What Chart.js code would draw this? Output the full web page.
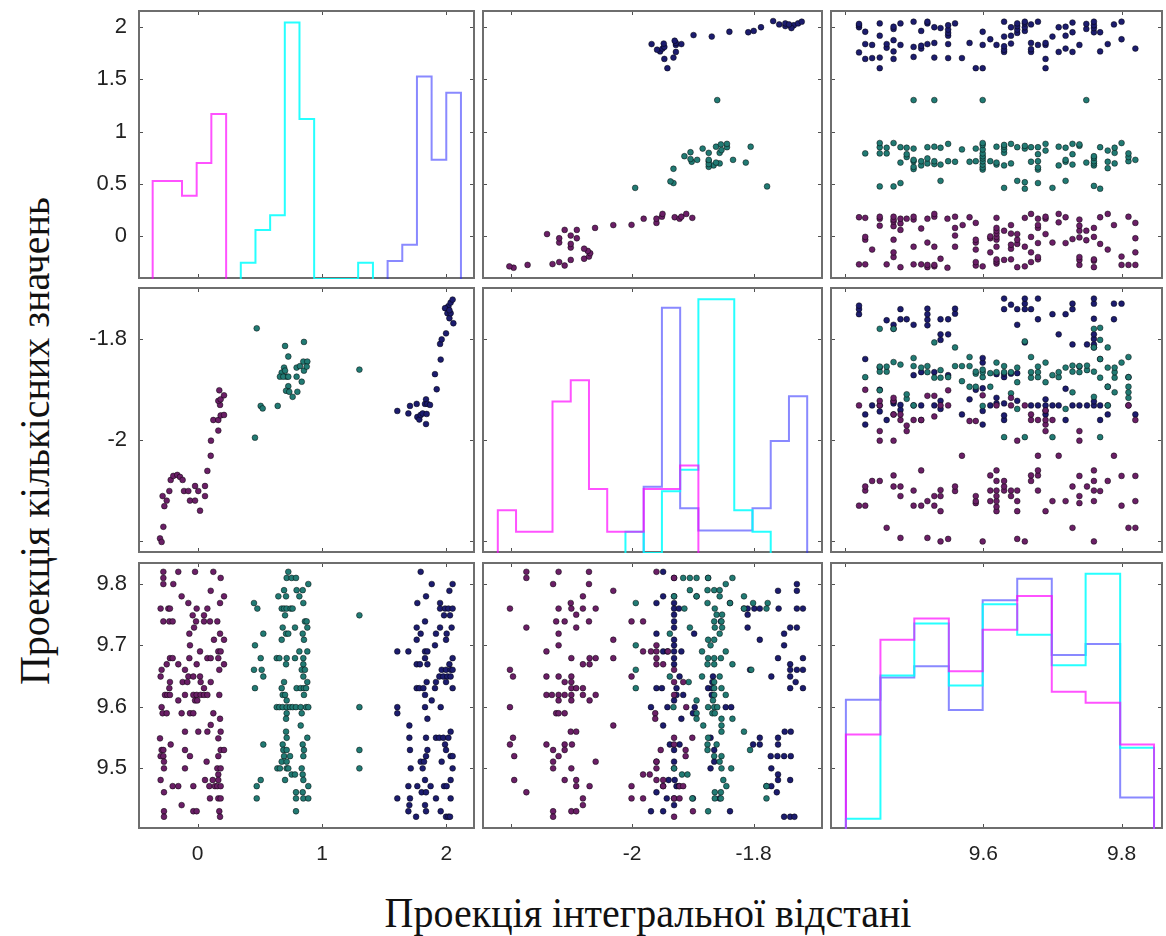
<!DOCTYPE html>
<html><head><meta charset="utf-8">
<script src="https://cdn.jsdelivr.net/npm/chart.js@4.4.1/dist/chart.umd.min.js"></script>
<style>
html,body{margin:0;padding:0;background:#fff;}
body{width:1166px;height:936px;position:relative;overflow:hidden;}
canvas{position:absolute;}
.title{position:absolute;font-family:"Liberation Serif","Times New Roman",serif;font-size:40px;color:#111;white-space:nowrap;line-height:1;}
#xt{left:648px;top:893px;transform:translateX(-50%) scaleY(1.08);}
#yt{left:35px;top:441px;transform:translate(-50%,-50%) rotate(-90deg) scaleY(1.08);}
</style></head>
<body>
<div class="title" id="xt">Проекція інтегральної відстані</div>
<div class="title" id="yt">Проекція кількісних значень</div>
<script>
// ---------------- DATA ----------------
// axis ticks
const xTickVals = [[0,1,2],[-2.2,-2,-1.8],[9.4,9.6,9.8]];
const xTickLabels = [['0','1','2'],['','-2','-1.8'],['','9.6','9.8']];
const yTickVals = [[0,0.5,1,1.5,2],[-2.2,-2,-1.8],[9.5,9.6,9.7,9.8]];
const yTickLabels = [['0','0.5','1','1.5','2'],['','-2','-1.8'],['9.5','9.6','9.7','9.8']];
const varRangeX = [[-0.480,2.231],[-2.247,-1.686],[9.378,9.860]];
const varRangeY = [[-0.411,2.163],[-2.224,-1.696],[9.400,9.836]];

// histogram bin edges per variable
const v1Edges = [-0.362,-0.244,-0.126,-0.008,0.110,0.229,0.347,0.465,0.583,0.701,0.819,0.937,1.055,1.173,1.291,1.410,1.528,1.646,1.764,1.882,2.000,2.118];
const v2Edges = [-2.221,-2.191,-2.161,-2.131,-2.101,-2.071,-2.041,-2.011,-1.981,-1.951,-1.921,-1.891,-1.862,-1.832,-1.802,-1.772,-1.742,-1.712];
const v3Edges = [9.401,9.451,9.500,9.550,9.599,9.649,9.699,9.748,9.798,9.847];
// [first bin index, counts]  order: magenta, cyan, blue
const v1Hist = [[0,[6.0,6.0,5.1,7.1,10.1]],[6,[1.0,3.0,3.9,15.7,9.8,0,0,0,1.0]],[16,[1.1,2.1,12.4,7.3,11.4]]];
const v2Hist = [[0,[2.0,1.0,1.0,7.1,8.1,3.0,1.0,1.0,3.0,3.0,4.1]],[7,[1.0,0,2.9,3.9,11.9,11.9,2.0,1.0]],[8,[3.1,11.5,2.1,1.05,1.05,1.05,2.1,5.25,7.35]]];
const v3Hist = [[0,[9.3,18.6,20.7,15.5,19.6,22.9,13.5,12.4,8.3]],[0,[1.0,15.1,20.2,14.1,22.1,19.1,16.1,25.1,8.0]],[0,[12.7,14.9,16.0,11.7,22.5,24.6,17.1,18.2,3.1]]];
const histMax = [16.47,12.47,26.25];

// variable 1 vs variable 2 : [v1, v2]
const purpleV1V2 = [[-0.303,-2.195],[-0.290,-2.202],[-0.276,-2.172],[-0.268,-2.131],[-0.249,-2.120],[-0.282,-2.111],[-0.228,-2.101],[-0.217,-2.079],[-0.196,-2.071],[-0.164,-2.069],[-0.142,-2.073],[-0.121,-2.079],[-0.110,-2.101],[-0.075,-2.101],[-0.062,-2.120],[-0.021,-2.120],[-0.021,-2.091],[0.005,-2.101],[0.019,-2.140],[0.059,-2.091],[0.059,-2.111],[0.078,-2.061],[0.105,-2.031],[0.107,-2.001],[0.126,-1.960],[0.166,-1.981],[0.166,-1.960],[0.185,-1.951],[0.212,-1.950],[0.180,-1.930],[0.166,-1.922],[0.185,-1.919],[0.212,-1.911],[0.174,-1.901]];
const tealV1V2 = [[0.475,-1.778],[0.461,-1.995],[0.507,-1.932],[0.523,-1.937],[0.644,-1.932],[0.703,-1.813],[0.855,-1.805],[0.729,-1.834],[0.695,-1.856],[0.676,-1.866],[0.703,-1.862],[0.716,-1.874],[0.662,-1.874],[0.689,-1.874],[0.729,-1.874],[0.796,-1.856],[0.823,-1.853],[0.850,-1.844],[0.882,-1.844],[0.855,-1.862],[0.877,-1.854],[0.796,-1.874],[0.837,-1.884],[0.729,-1.893],[0.711,-1.902],[0.737,-1.904],[0.802,-1.904],[0.764,-1.914],[1.301,-1.860]];
const navyV1V2 = [[1.606,-1.942],[1.695,-1.947],[1.708,-1.932],[1.762,-1.928],[1.767,-1.954],[1.783,-1.959],[1.794,-1.950],[1.810,-1.947],[1.829,-1.928],[1.837,-1.919],[1.848,-1.928],[1.869,-1.930],[1.837,-1.968],[1.842,-1.948],[1.923,-1.899],[1.909,-1.869],[1.955,-1.840],[1.950,-1.809],[1.963,-1.800],[1.998,-1.788],[2.003,-1.738],[2.017,-1.734],[2.035,-1.727],[2.051,-1.721],[1.990,-1.738],[2.009,-1.748],[2.025,-1.758],[2.035,-1.748],[2.025,-1.742],[2.057,-1.768]];

// variable 1 vs variable 3, grouped by v3: [v3, [v1 ...]]
const purpleV3V1 = [[9.820,[-0.276,-0.156,-0.021,0.126]],[9.810,[-0.276,0.185]],[9.800,[-0.276,-0.196]],[9.789,[0.105]],[9.780,[-0.129,0.212]],[9.769,[0.180,-0.075]],[9.760,[-0.298,-0.236,-0.223,-0.008,0.078]],[9.749,[-0.040,0.051]],[9.739,[-0.276,-0.228,-0.201,-0.013,0.051,0.099,0.158]],[9.729,[-0.029]],[9.719,[-0.067,0.180]],[9.709,[0.131,0.212]],[9.700,[-0.062]],[9.690,[0.019,0.166,0.185]],[9.679,[-0.223,-0.201,-0.067,0.078,0.105,0.166]],[9.669,[-0.249,-0.156,-0.008,0.212]],[9.660,[-0.290,-0.102,0.174]],[9.649,[-0.298,-0.075,-0.035,0.019]],[9.640,[-0.223,-0.121,-0.083,0.024,0.105]],[9.630,[-0.228,0.051]],[9.619,[-0.263,-0.244,-0.223,-0.102,-0.035,-0.008,0.024,0.051,0.078,0.174]],[9.610,[-0.156,-0.021,-0.003]],[9.599,[-0.290]],[9.589,[-0.282,-0.249,-0.129,-0.062,-0.035,0.126]],[9.580,[0.180]],[9.570,[0.105]],[9.559,[-0.102,0.005,0.078,0.185]],[9.548,[-0.303,0.166]],[9.538,[-0.217]],[9.529,[-0.290,-0.276,-0.102,0.185,0.212]],[9.519,[-0.298,-0.276,-0.062,0.166]],[9.510,[-0.271,0.072]],[9.499,[-0.271,-0.102,0.158,0.185]],[9.489,[0.166]],[9.480,[-0.298,0.059,0.121,0.166]],[9.470,[-0.201,-0.156,-0.035,0.094,0.139,0.158,0.185]],[9.460,[-0.271]],[9.450,[0.099,0.166,0.185]],[9.439,[-0.129]],[9.429,[-0.271,-0.035,-0.008,0.174]],[9.420,[-0.271,0.180]]];
const tealV3V1 = [[9.820,[0.729]],[9.810,[0.716,0.756,0.791]],[9.800,[0.890]],[9.790,[0.695,0.796,0.845]],[9.780,[0.649,0.711,0.818]],[9.769,[0.453,0.850]],[9.760,[0.480,0.676,0.695,0.716,0.748,0.764]],[9.749,[0.703,1.301]],[9.739,[0.863,0.877]],[9.729,[0.684,0.783,0.882]],[9.719,[0.528,0.711,0.729,0.845]],[9.709,[0.676,0.855]],[9.700,[0.461]],[9.690,[0.818,0.882]],[9.679,[0.507,0.636,0.657,0.716,0.783,0.850]],[9.669,[0.711,0.850]],[9.660,[0.453,0.515,0.837,0.863]],[9.649,[0.528,0.850]],[9.640,[0.695,0.882]],[9.630,[0.461,0.676,0.796,0.829,0.855,0.872]],[9.619,[0.684,0.703,0.855]],[9.610,[0.716]],[9.599,[0.636,0.657,0.684,0.716,0.743,0.764,0.791,0.829,0.872,0.890,1.301]],[9.589,[0.716,0.837]],[9.580,[0.711]],[9.569,[0.829]],[9.559,[0.711]],[9.549,[0.716,0.882]],[9.538,[0.528,0.684,0.845]],[9.529,[0.689,0.716,0.855,1.301]],[9.519,[0.695,0.743,0.850]],[9.510,[0.676,0.716]],[9.499,[0.641,0.662,0.716,0.729,0.837,1.301]],[9.489,[0.756,0.783,0.845]],[9.480,[0.507,0.703,0.850]],[9.470,[0.475,0.890]],[9.460,[0.791,0.845]],[9.450,[0.475,0.791,0.850,0.890]],[9.429,[0.791]]];
const navyV3V1 = [[9.820,[1.794]],[9.800,[1.883,2.051]],[9.789,[2.025]],[9.780,[1.837]],[9.769,[1.767,1.950]],[9.760,[1.950,1.990,2.017,2.051]],[9.749,[1.982,2.030]],[9.739,[1.829]],[9.729,[1.762,1.950,2.043]],[9.719,[1.794,1.917,2.003]],[9.709,[1.762,1.998]],[9.700,[1.909]],[9.690,[1.606,1.695,1.829,1.848]],[9.679,[1.829,2.051]],[9.669,[1.762,1.788,1.848,2.025]],[9.660,[1.963,1.998,2.035,2.051]],[9.649,[1.944,1.976,2.009,2.035]],[9.640,[1.842,1.917,1.998]],[9.630,[1.762,1.783,1.816,1.909,2.051]],[9.619,[1.829]],[9.610,[1.883]],[9.599,[1.606,1.829,1.955]],[9.589,[1.606]],[9.580,[1.848]],[9.569,[1.703]],[9.559,[2.035]],[9.549,[1.703,1.837,1.917,1.944,1.976,2.017]],[9.538,[1.990]],[9.529,[1.708,1.848,1.998]],[9.519,[1.837,2.035,2.051]],[9.510,[1.794,1.821,1.963]],[9.499,[1.714,1.810,2.051]],[9.480,[1.829,2.035]],[9.470,[1.695,1.767,1.874,1.982,2.003]],[9.460,[1.802,1.837]],[9.450,[1.606,1.708,1.917,2.035]],[9.439,[1.703,1.829]],[9.429,[1.695,1.837,1.955]],[9.420,[1.757,1.998,2.017,2.030]]];

// variable 2 vs variable 3, grouped by v3: [v3, [v2 ...]]
const purpleV3V2 = [[9.820,[-2.174,-2.121,-2.071,-1.960]],[9.810,[-2.174,-1.931]],[9.800,[-2.130,-2.071]],[9.789,[-2.031]],[9.780,[-2.081]],[9.769,[-2.101]],[9.760,[-2.201,-2.121,-2.100,-2.081,-2.060]],[9.750,[-2.092]],[9.739,[-2.125,-2.111,-2.071,-2.001,-1.982]],[9.729,[-2.174,-2.092]],[9.719,[-2.121]],[9.709,[-2.031]],[9.700,[-2.121,-1.960]],[9.690,[-2.141,-1.982,-1.969,-1.960,-1.941]],[9.679,[-2.100,-2.070,-2.060,-2.031,-1.960]],[9.669,[-2.081,-2.070,-1.960,-1.949]],[9.660,[-2.201,-1.931]],[9.649,[-2.196,-2.141,-2.121,-2.100,-2.001]],[9.640,[-2.111,-2.100,-1.931,-1.916]],[9.630,[-2.100,-2.092,-2.081]],[9.619,[-2.141,-2.132,-2.121,-2.111,-2.100,-2.081,-2.060,-1.931]],[9.610,[-2.121,-2.100,-2.070]],[9.599,[-2.201,-1.911]],[9.589,[-2.125,-2.121,-2.111,-1.962]],[9.580,[-1.962]],[9.569,[-2.031]],[9.559,[-2.101,-2.092]],[9.549,[-2.196,-1.931,-1.901]],[9.538,[-2.201,-2.141,-2.111,-2.099,-1.931]],[9.529,[-2.130,-2.111,-1.953,-1.912]],[9.519,[-2.194,-2.121,-1.912]],[9.510,[-2.130,-2.060,-1.960]],[9.499,[-2.130,-2.100,-1.960]],[9.489,[-1.982,-1.971]],[9.480,[-2.194,-2.111,-2.092,-1.960,-1.949]],[9.470,[-2.092,-2.070,-2.001,-1.949,-1.922,-1.916]],[9.460,[-2.174]],[9.450,[-2.081,-2.001,-1.982,-1.931,-1.922]],[9.439,[-2.081]],[9.429,[-2.130,-2.100,-2.092,-1.900]],[9.420,[-2.130,-1.931]]];
const tealV3V2 = [[9.810,[-1.916,-1.905,-1.894,-1.875,-1.835]],[9.800,[-1.846]],[9.790,[-1.905,-1.876,-1.865,-1.856]],[9.780,[-1.931,-1.894,-1.856,-1.816]],[9.769,[-1.994,-1.876,-1.777,-1.801,-1.839]],[9.760,[-1.914,-1.864,-1.816,-1.779]],[9.750,[-1.861,-1.852]],[9.739,[-1.865,-1.853]],[9.729,[-1.905,-1.864,-1.852]],[9.719,[-1.938,-1.856]],[9.709,[-1.875,-1.865]],[9.700,[-1.994,-1.871]],[9.690,[-1.885,-1.846]],[9.679,[-1.875,-1.865,-1.854]],[9.669,[-1.876,-1.865,-1.835]],[9.660,[-1.994,-1.804]],[9.649,[-1.938,-1.885,-1.856]],[9.640,[-1.907,-1.865]],[9.630,[-1.994,-1.865,-1.853]],[9.619,[-1.865,-1.846]],[9.610,[-1.894,-1.867]],[9.599,[-1.932,-1.875,-1.865,-1.860]],[9.589,[-1.894,-1.868,-1.864]],[9.580,[-1.894,-1.853,-1.835]],[9.569,[-1.883,-1.853]],[9.559,[-1.853,-1.816]],[9.549,[-1.875]],[9.538,[-1.876,-1.861]],[9.529,[-1.876,-1.806]],[9.519,[-1.865,-1.853]],[9.510,[-1.856]],[9.499,[-1.931,-1.853,-1.837]],[9.489,[-1.918,-1.909]],[9.480,[-1.850]],[9.470,[-1.845,-1.779]],[9.460,[-1.864,-1.854]],[9.450,[-1.901,-1.864,-1.854,-1.779]],[9.429,[-1.875]]];
const navyV3V2 = [[9.820,[-1.949]],[9.810,[-1.931,-1.875]],[9.800,[-1.729]],[9.789,[-1.760,-1.729]],[9.780,[-1.949,-1.931,-1.894]],[9.769,[-1.960,-1.931,-1.839]],[9.760,[-1.931,-1.923,-1.816,-1.810,-1.799,-1.790,-1.759,-1.729,-1.719]],[9.750,[-1.931,-1.810]],[9.739,[-1.931,-1.854]],[9.729,[-1.931,-1.810,-1.740,-1.729]],[9.719,[-1.960,-1.898,-1.750]],[9.709,[-1.931,-1.790]],[9.700,[-1.931,-1.750]],[9.690,[-1.949,-1.942,-1.931,-1.919]],[9.679,[-1.931,-1.760,-1.719]],[9.669,[-1.931,-1.740]],[9.660,[-1.806,-1.740,-1.729,-1.719]],[9.649,[-1.922,-1.867,-1.771,-1.740]],[9.640,[-1.868,-1.731]],[9.630,[-1.960,-1.951,-1.927,-1.875,-1.868,-1.740,-1.719]],[9.619,[-1.927,-1.916,-1.869]],[9.610,[-1.931]],[9.599,[-1.969,-1.942,-1.897,-1.846,-1.837]],[9.589,[-1.900]],[9.580,[-1.919]],[9.569,[-1.949]],[9.559,[-1.749,-1.739]],[9.549,[-1.871,-1.790,-1.760]],[9.538,[-1.938,-1.922,-1.801,-1.790,-1.760]],[9.529,[-1.931,-1.865]],[9.519,[-1.772,-1.761,-1.750,-1.739]],[9.510,[-1.960,-1.931,-1.865]],[9.499,[-1.931,-1.871,-1.771]],[9.489,[-1.760]],[9.480,[-1.940,-1.930,-1.760,-1.740]],[9.470,[-1.949,-1.927,-1.923,-1.779,-1.771]],[9.460,[-1.960,-1.762]],[9.450,[-1.943,-1.931,-1.900,-1.856]],[9.439,[-1.931]],[9.429,[-1.969,-1.949,-1.839]],[9.420,[-1.750,-1.740,-1.733]]];

// ---------------- STYLE / LAYOUT ----------------
const classColors = ['#6a1f66','#217a73','#1c1c6e'];
const histColors = ['rgba(255,0,255,0.68)','rgba(0,255,255,0.85)','rgba(40,40,255,0.55)'];
const cols = [{l:138,r:475},{l:482,r:823},{l:830,r:1163}];
const rows = [{t:10,b:279},{t:287,b:553},{t:562,b:829}];
const LEFT_AXIS_W = 78, BOTTOM_AXIS_H = 55;
const Y_TICK_FONT = {family:'Liberation Sans, Arial, sans-serif', size:22};
const X_TICK_FONT = {family:'Liberation Sans, Arial, sans-serif', size:21};

function expand(groups){ const out=[]; for(const [yv,xs] of groups) for(const xv of xs) out.push([xv,yv]); return out; }
const pairs = {
  '01':[purpleV1V2,tealV1V2,navyV1V2],
  '02':[expand(purpleV3V1),expand(tealV3V1),expand(navyV3V1)],
  '12':[expand(purpleV3V2),expand(tealV3V2),expand(navyV3V2)]
};
function pts(cls,xv,yv){
  if(xv<yv) return pairs[''+xv+yv][cls].map(p=>({x:p[0],y:p[1]}));
  return pairs[''+yv+xv][cls].map(p=>({x:p[1],y:p[0]}));
}
function histPts(edges,start,counts){
  const out=[{x:edges[start],y:0}];
  counts.forEach((c,i)=>{ out.push({x:edges[start+i],y:c}); out.push({x:edges[start+i+1],y:c}); });
  out.push({x:edges[start+counts.length],y:0});
  return out;
}
function labelFor(vals,labels,v){ for(let i=0;i<vals.length;i++) if(Math.abs(vals[i]-v)<1e-9) return labels[i]; return ''; }

const framePlugin = {
  id:'frame',
  beforeDatasetsDraw(chart,args,o){
    const ctx=chart.ctx, a=chart.chartArea, xs=chart.scales[o.xId], ys=chart.scales[o.yId];
    ctx.save();
    ctx.strokeStyle='#505050'; ctx.lineWidth=1;
    ctx.beginPath();
    for(const v of o.xt){ const p=Math.round(xs.getPixelForValue(v))+0.5; ctx.moveTo(p,a.top); ctx.lineTo(p,a.top+5); ctx.moveTo(p,a.bottom); ctx.lineTo(p,a.bottom-5); }
    for(const v of o.yt){ const p=Math.round(ys.getPixelForValue(v))+0.5; ctx.moveTo(a.left,p); ctx.lineTo(a.left+5,p); ctx.moveTo(a.right,p); ctx.lineTo(a.right-5,p); }
    ctx.stroke();
    ctx.strokeStyle='#6e6e6e'; ctx.lineWidth=2;
    ctx.strokeRect(a.left+1,a.top+1,a.right-a.left-2,a.bottom-a.top-2);
    ctx.restore();
  }
};

function noPad(sc){ sc.paddingTop=0; sc.paddingBottom=0; sc.paddingLeft=0; sc.paddingRight=0; }
function xScale(c,show){
  const s={type:'linear',min:varRangeX[c][0],max:varRangeX[c][1],display:show,position:'bottom',
    grid:{display:false,drawTicks:false},border:{display:false},
    ticks:{autoSkip:false,maxRotation:0,minRotation:0,padding:13,font:X_TICK_FONT,color:'#222',
      callback:(v)=>labelFor(xTickVals[c],xTickLabels[c],v)},
    afterBuildTicks:(sc)=>{sc.ticks=xTickVals[c].map(v=>({value:v}));}};
  if(show) s.afterFit=(sc)=>{sc.height=BOTTOM_AXIS_H; noPad(sc);};
  return s;
}
function yScale(r,show){
  const s={type:'linear',min:varRangeY[r][0],max:varRangeY[r][1],display:show,position:'left',
    grid:{display:false,drawTicks:false},border:{display:false},
    ticks:{autoSkip:false,padding:11,font:Y_TICK_FONT,color:'#222',
      callback:(v)=>labelFor(yTickVals[r],yTickLabels[r],v)},
    afterBuildTicks:(sc)=>{sc.ticks=yTickVals[r].map(v=>({value:v}));}};
  if(show) s.afterFit=(sc)=>{sc.width=LEFT_AXIS_W; noPad(sc);};
  return s;
}

const hists=[v1Hist,v2Hist,v3Hist], edgesAll=[v1Edges,v2Edges,v3Edges];

for(let r=0;r<3;r++){
  for(let c=0;c<3;c++){
    const showY=(c===0), showX=(r===2);
    const cv=document.createElement('canvas');
    const left=cols[c].l-(showY?LEFT_AXIS_W:0), top=rows[r].t;
    const w=(cols[c].r-cols[c].l)+(showY?LEFT_AXIS_W:0);
    const h=(rows[r].b-rows[r].t)+(showX?BOTTOM_AXIS_H:0);
    cv.width=w; cv.height=h; cv.style.left=left+'px'; cv.style.top=top+'px';
    document.body.appendChild(cv);
    let datasets, scales, frameOpts;
    if(r===c){
      datasets=hists[r].map((hd,k)=>({data:histPts(edgesAll[r],hd[0],hd[1]),showLine:true,borderColor:histColors[k],borderWidth:2,pointRadius:0,tension:0,fill:false,xAxisID:'x',yAxisID:'y'}));
      scales={x:xScale(c,showX),
        y:{type:'linear',min:0,max:histMax[r],display:false},
        yv:yScale(r,showY)};
      frameOpts={xId:'x',yId:'yv',xt:xTickVals[c],yt:yTickVals[r]};
    } else {
      datasets=[0,1,2].map(k=>({data:pts(k,c,r),showLine:false,pointRadius:2.9,pointHoverRadius:2.9,
        pointBackgroundColor:classColors[k],pointBorderColor:'rgba(0,0,0,0.6)',pointBorderWidth:0.8,xAxisID:'x',yAxisID:'y'}));
      scales={x:xScale(c,showX),y:yScale(r,showY)};
      frameOpts={xId:'x',yId:'y',xt:xTickVals[c],yt:yTickVals[r]};
    }
    new Chart(cv,{type:'scatter',data:{datasets},
      options:{responsive:false,animation:false,events:[],devicePixelRatio:1,layout:{padding:0,autoPadding:false},
        plugins:{legend:{display:false},tooltip:{enabled:false},frame:frameOpts},
        scales},
      plugins:[framePlugin]});
  }
}
</script>
</body></html>
